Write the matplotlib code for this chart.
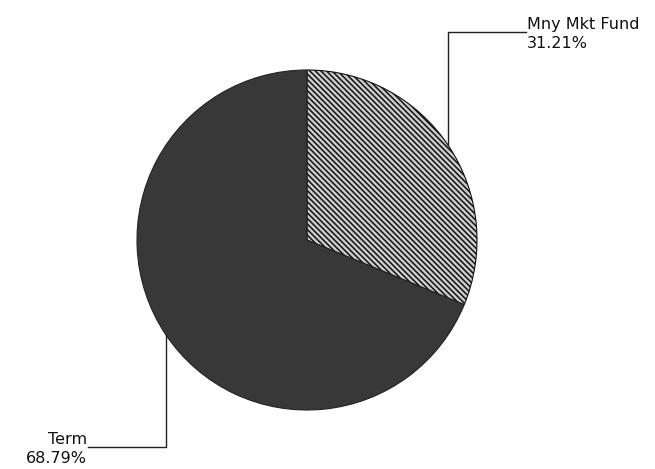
import numpy as np
import matplotlib
matplotlib.use("Agg")
import matplotlib.pyplot as plt

#=====================data===============
labels = ["Mny Mkt Fund", "Term"]
shares = [31.21, 68.79]

#=====================layout (pixels, y up)===============
W, H = 655, 469
cx, cy, r = 307, H - 240, 170
label_y = [H - 32, H - 447]   # height of the leader elbow for each label
arm = 78                        # horizontal leader length

fig = plt.figure(figsize=(W / 100, H / 100), dpi=100)
ax = fig.add_axes([0, 0, 1, 1])

plt.rcParams['hatch.linewidth'] = 1.1
wedges, _ = ax.pie(shares, startangle=90, counterclock=False, center=(cx, cy), radius=r,
                   colors=['#cccccc', '#383838'],
                   wedgeprops=dict(edgecolor='#222222', linewidth=0.8))
wedges[0].set_hatch('\\' * 6)
wedges[0].set_edgecolor('#111111')

for w, lab, val, ly in zip(wedges, labels, shares, label_y):
    mid = np.deg2rad((w.theta1 + w.theta2) / 2)
    px, py = cx + r * np.cos(mid), cy + r * np.sin(mid)
    side = 1 if np.cos(mid) > 0 else -1
    ex = px + side * arm
    ax.plot([px, px, ex], [py, ly, ly], color='#222222', linewidth=1.0)
    ha = 'left' if side > 0 else 'right'
    tx = ex + side * 1
    ax.text(tx, ly + 3, lab, ha=ha, va='baseline', fontsize=11.5, color='#111111')
    ax.text(tx, ly - 4, '%.2f%%' % val, ha=ha, va='top', fontsize=11.5, color='#111111')

# pie() resets the view, so fix the pixel frame afterwards
ax.set_xlim(0, W)
ax.set_ylim(0, H)
ax.set_aspect('equal')
ax.axis('off')

fig.savefig('out.png', dpi=100)
